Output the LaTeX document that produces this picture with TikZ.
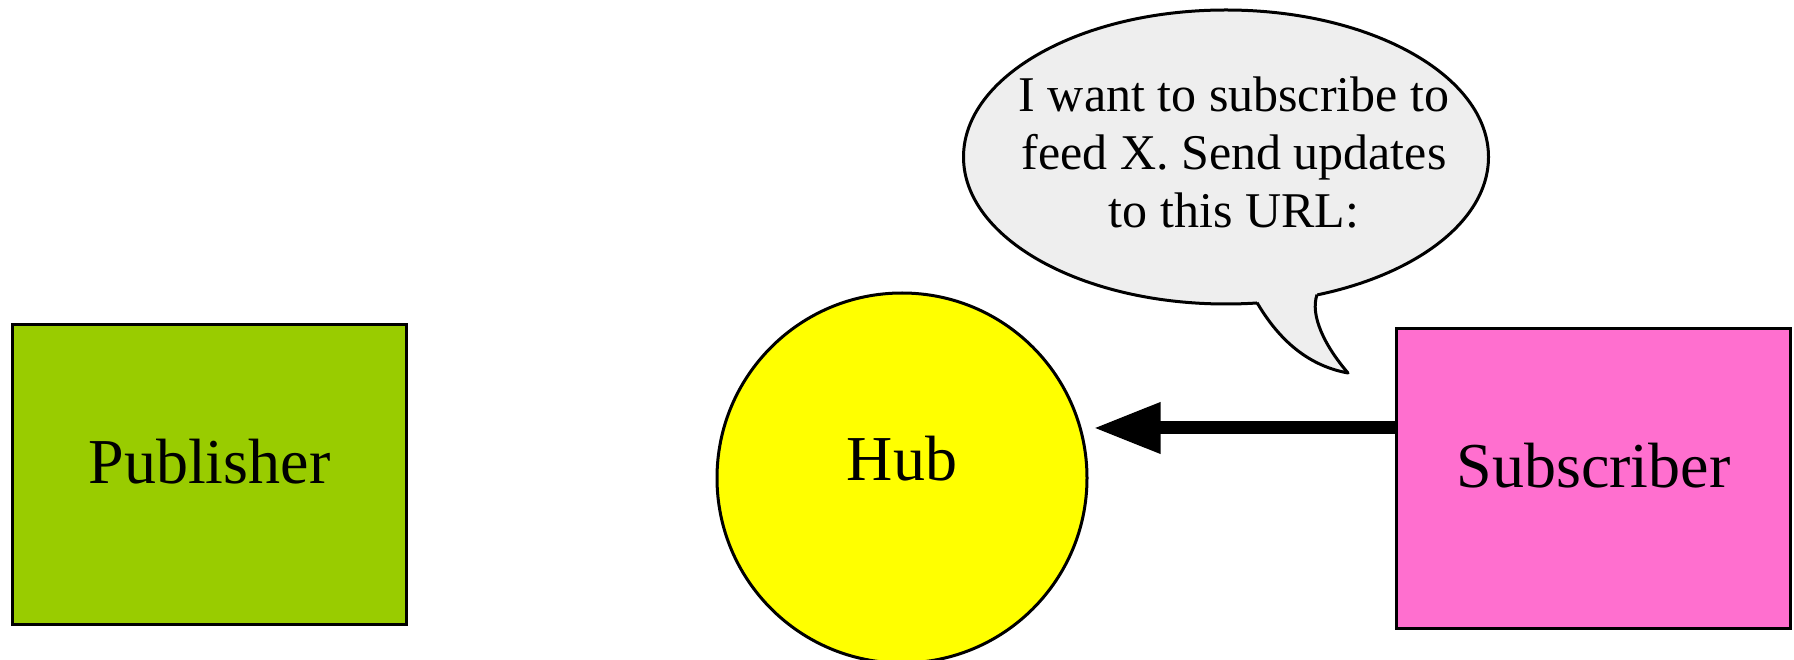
\documentclass[tikz,border=0pt]{standalone}
\usepackage{fontspec}
\setmainfont{Liberation Serif}
\usetikzlibrary{arrows.meta}

\begin{document}
\begin{tikzpicture}[x=1pt,y=1pt,
    party/.style={draw, line width=1.8pt, inner sep=0pt, text depth=13pt,
        font=\fontsize{32}{38}\selectfont},
    actor/.style={party, rectangle, minimum width=197pt, minimum height=150pt},
    speech/.style={draw, line width=1.5pt, fill=saycolor}]
    % Define colors
    \definecolor{pubcolor}{HTML}{99CC00} % green
    \definecolor{hubcolor}{HTML}{FFFF00} % yellow
    \definecolor{subcolor}{HTML}{FF6FCF} % pink
    \definecolor{saycolor}{HTML}{EEEEEE} % light gray

    % Page size
    \useasboundingbox (0,0) rectangle (897,329.5);

    % Draw the three parties
    \node[actor, fill=pubcolor] (pub) at (104.75,92.25) {Publisher};
    \node[party, circle, line width=1.5pt, text depth=20pt, fill=hubcolor, minimum size=185pt] (hub) at (451,90.5) {Hub};
    \node[actor, fill=subcolor] (sub) at (796.75,90.25) {Subscriber};

    % Subscribe request
    \coordinate (ask) at ([yshift=25.25pt]sub.west);
    \draw[line width=6.5pt, shorten >=2.5pt, -{Triangle[length=33.5pt,width=24pt]}] (ask) -- (ask -| hub.east);

    % Speech bubble with its tail
    \coordinate (bubble) at (613,251);
    \draw[speech] (bubble) ellipse [x radius=131.25, y radius=73.5];
    \fill[saycolor] (628.5,178.2) .. controls (638,162) and (652,147) .. (674,143)
        .. controls (662,157) and (655,172) .. (658.5,182.2) -- (658.5,190) -- (628.5,190) -- cycle;
    \draw[line width=1.5pt, line join=round] (628.5,178.2) .. controls (638,162) and (652,147) .. (674,143)
        .. controls (662,157) and (655,172) .. (658.5,182.2);
    \node[align=center, inner sep=0pt, font=\fontsize{25}{29}\selectfont] (msg) at (617,253)
        {I want to subscribe to\\feed X. Send updates\\to this URL:};
\end{tikzpicture}
\end{document}
